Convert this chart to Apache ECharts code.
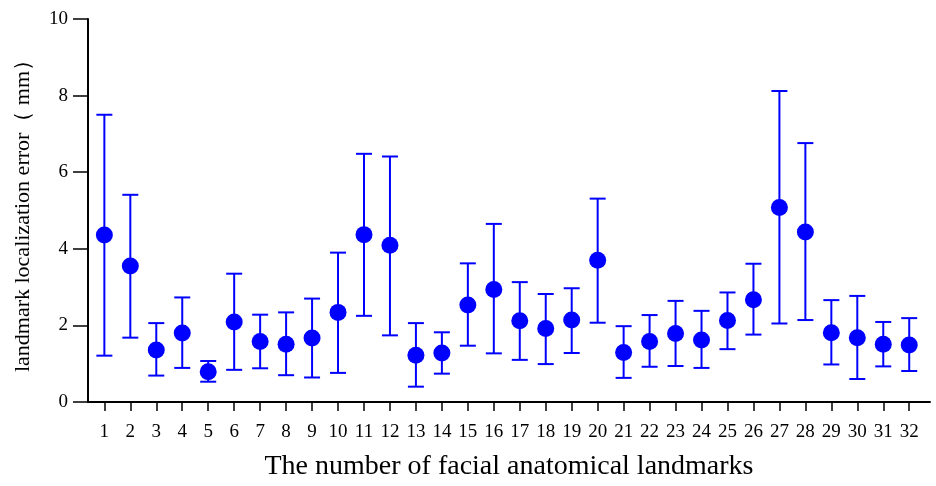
<!DOCTYPE html>
<html>
<head>
<meta charset="utf-8">
<script src="https://cdn.jsdelivr.net/npm/echarts@6/dist/echarts.min.js"></script>
<style>html,body{margin:0;padding:0;background:#fff}#chart{width:936px;height:486px}</style>
</head>
<body>
<div id="chart"></div>
<script>
const landmarks = [1,2,3,4,5,6,7,8,9,10,11,12,13,14,15,16,17,18,19,20,21,22,23,24,25,26,27,28,29,30,31,32];
const meanError = [4.36,3.55,1.36,1.80,0.79,2.09,1.58,1.51,1.67,2.34,4.37,4.09,1.22,1.28,2.53,2.94,2.12,1.92,2.14,3.70,1.29,1.58,1.79,1.62,2.13,2.67,5.08,4.44,1.81,1.68,1.51,1.49];
const upperBound = [7.50,5.41,2.06,2.73,1.07,3.35,2.28,2.34,2.70,3.90,6.48,6.41,2.06,1.82,3.62,4.65,3.13,2.82,2.97,5.31,1.98,2.27,2.64,2.38,2.86,3.61,8.12,6.76,2.66,2.77,2.09,2.19];
const lowerBound = [1.21,1.68,0.69,0.89,0.53,0.84,0.88,0.70,0.64,0.76,2.25,1.74,0.40,0.74,1.47,1.27,1.10,0.99,1.28,2.07,0.63,0.92,0.94,0.89,1.38,1.76,2.05,2.14,0.98,0.60,0.93,0.81];
const yTicks = [0,2,4,6,8,10];

const FONT = '"Liberation Serif","Times New Roman",serif';
const BLUE = '#0000ff';

const chart = echarts.init(document.getElementById('chart'), null, {renderer:'canvas'});
const errData = landmarks.map((x,i)=>[x, lowerBound[i], upperBound[i]]);
const ptData = landmarks.map((x,i)=>[x, meanError[i]]);

chart.setOption({
  animation:false,
  backgroundColor:'#fff',
  grid:{left:88, right:6, top:19, bottom:83, containLabel:false},
  xAxis:{
    type:'value', min:0.37, max:32.8,
    name:'The number of facial anatomical landmarks',
    nameLocation:'middle', nameGap:51,
    nameTextStyle:{fontFamily:FONT, fontSize:28, color:'#000'},
    axisLine:{show:true, onZero:false, lineStyle:{color:'#000', width:2}},
    axisTick:{show:true, inside:false, length:9, customValues:landmarks, lineStyle:{color:'#000', width:1.5}},
    axisLabel:{show:true, margin:21, customValues:landmarks, fontFamily:FONT, fontSize:19, color:'#000'},
    splitLine:{show:false}
  },
  yAxis:{
    type:'value', min:0, max:10, interval:2,
    name:'landmark localization error（ mm）',
    nameLocation:'middle', nameGap:54, nameRotate:90,
    nameTextStyle:{fontFamily:FONT, fontSize:22, color:'#000'},
    axisLine:{show:true, lineStyle:{color:'#000', width:2}},
    axisTick:{show:true, length:15, lineStyle:{color:'#000', width:1.5}},
    axisLabel:{margin:20, fontFamily:FONT, fontSize:19, color:'#000'},
    splitLine:{show:false}
  },
  series:[
    {
      type:'custom',
      data:errData,
      encode:{x:0, y:[1,2]},
      renderItem:function(params, api){
        const x = api.value(0);
        const lo = api.coord([x, api.value(1)]);
        const hi = api.coord([x, api.value(2)]);
        const hw = 8;
        const style = {stroke:BLUE, lineWidth:2, fill:null};
        return {
          type:'group',
          children:[
            {type:'line', shape:{x1:lo[0], y1:lo[1], x2:hi[0], y2:hi[1]}, style:style},
            {type:'line', shape:{x1:hi[0]-hw, y1:hi[1], x2:hi[0]+hw, y2:hi[1]}, style:style},
            {type:'line', shape:{x1:lo[0]-hw, y1:lo[1], x2:lo[0]+hw, y2:lo[1]}, style:style}
          ]
        };
      },
      z:2
    },
    {
      type:'scatter',
      data:ptData,
      symbol:'circle',
      symbolSize:17,
      itemStyle:{color:BLUE, opacity:1},
      z:3
    }
  ]
});
</script>
</body>
</html>
